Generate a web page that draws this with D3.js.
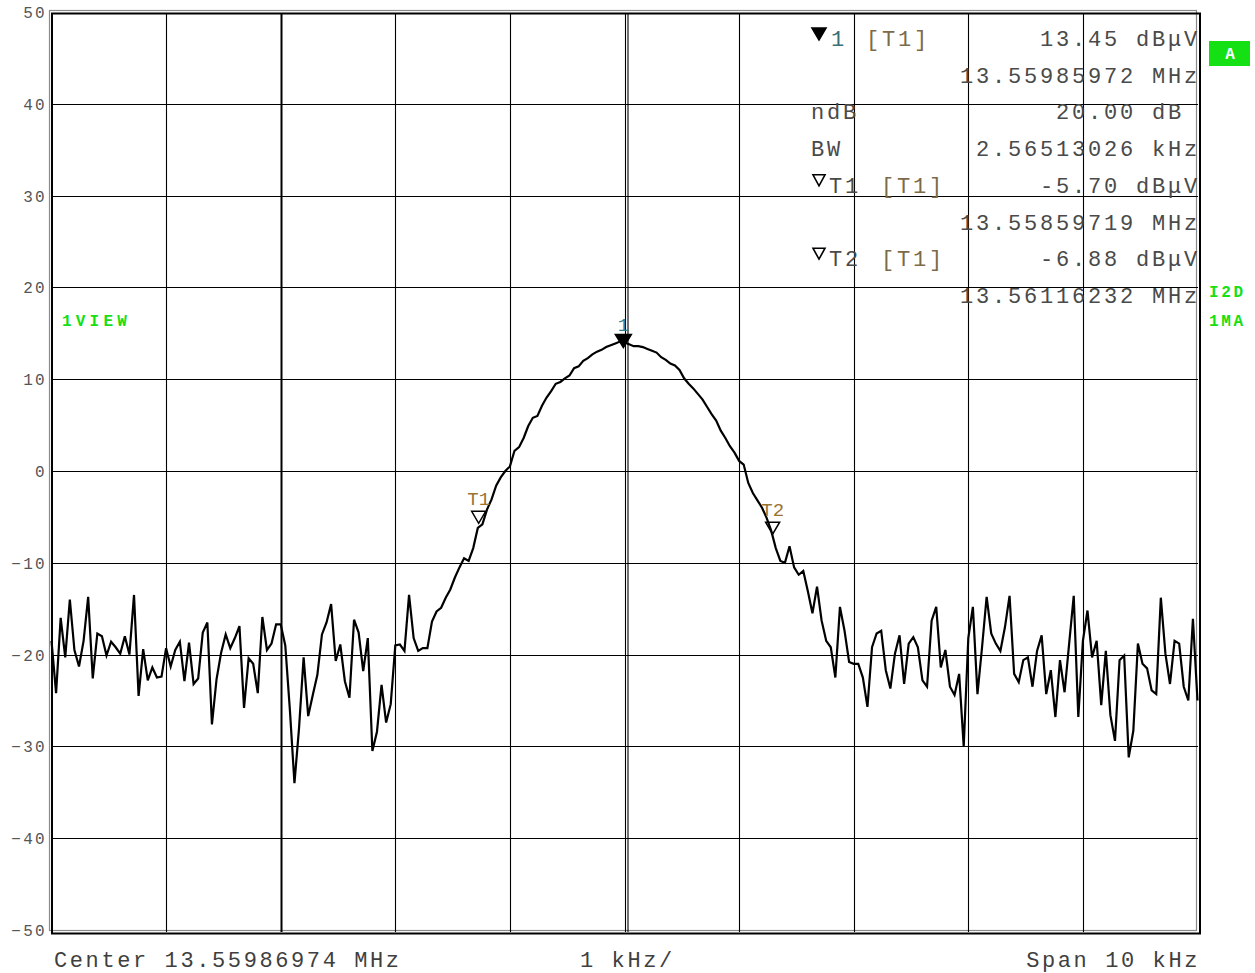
<!DOCTYPE html>
<html>
<head>
<meta charset="utf-8">
<script src="https://cdn.jsdelivr.net/npm/d3@7/dist/d3.min.js"></script>
<style>
  html, body { margin: 0; padding: 0; background: #fff; }
  svg { display: block; }
  text { font-family: "Liberation Mono", "DejaVu Sans Mono", monospace; white-space: pre; }
</style>
</head>
<body>
<svg width="1255" height="973"></svg>
<script>
// spectrum analyzer screen

var centerMHz = 13.55986974
var spanKHz = 10
var stepKHz = 0.04   // one trace point every 40 Hz

// trace level in dBuV, left to right
var levels = [
  -18.5, -24.2, -16.0, -20.3, -14.0, -19.5, -21.3, -18.5, -13.7, -22.6,
  -17.7, -18.0, -20.1, -18.6, -19.2, -19.9, -18.0, -20.0, -13.5, -24.5,
  -19.4, -22.8, -21.4, -22.5, -22.4, -19.3, -21.3, -19.5, -18.6, -22.9,
  -18.7, -23.2, -22.6, -17.6, -16.5, -27.6, -22.7, -19.8, -17.8, -19.3,
  -18.2, -16.9, -25.8, -20.4, -21.0, -24.2, -15.9, -19.5, -18.8, -16.7,
  -16.7, -19.0, -26.0, -34.0, -28.0, -20.3, -26.7, -24.4, -22.2, -17.8,
  -16.5, -14.5, -20.7, -18.9, -22.9, -24.7, -16.2, -17.6, -21.8, -18.2,
  -30.5, -28.4, -23.3, -27.4, -25.4, -19.0, -18.9, -19.6, -13.5, -18.2,
  -19.6, -19.3, -19.3, -16.4, -15.3, -14.9, -13.8, -12.9, -11.6, -10.5,
  -9.5, -9.8, -8.4, -6.2, -5.8, -4.2, -3.1, -1.6, -0.7, 0.0,
  0.5, 2.2, 2.6, 3.6, 4.9, 5.8, 6.0, 7.1, 8.0, 8.7,
  9.5, 9.7, 10.1, 10.4, 11.2, 11.4, 12.0, 12.3, 12.7, 13.0,
  13.2, 13.5, 13.7, 13.9, 14.1, 14.0, 13.8, 13.6, 13.6, 13.5,
  13.3, 13.1, 12.9, 12.4, 12.1, 11.7, 11.5, 11.0, 10.1, 9.5,
  9.0, 8.4, 7.8, 7.0, 6.2, 5.5, 4.4, 3.6, 2.7, 2.0,
  1.1, 0.7, -1.3, -2.4, -3.2, -4.0, -5.1, -6.5, -8.4, -9.8,
  -10.0, -8.2, -10.5, -11.3, -10.9, -13.1, -15.5, -12.6, -16.3, -18.5,
  -19.2, -22.5, -14.8, -17.4, -20.8, -21.0, -21.0, -22.5, -25.7, -19.2,
  -17.7, -17.4, -21.7, -23.7, -19.9, -17.9, -23.2, -18.8, -18.1, -19.2,
  -22.8, -23.5, -16.3, -14.8, -21.4, -19.5, -23.5, -24.4, -22.1, -30.0,
  -18.2, -14.8, -24.3, -19.2, -13.7, -17.7, -18.8, -19.6, -17.0, -13.6,
  -22.1, -23.0, -20.6, -20.3, -23.5, -19.6, -17.9, -24.3, -21.7, -26.8,
  -20.6, -24.1, -18.8, -13.6, -26.8, -18.5, -15.2, -20.3, -18.5, -25.5,
  -19.6, -26.6, -29.4, -20.6, -20.1, -31.2, -28.3, -18.8, -21.0, -21.5,
  -23.9, -24.3, -13.8, -19.9, -23.2, -18.5, -18.8, -23.5, -25.0, -16.1,
  -25.0
]

var yTicks = [50, 40, 30, 20, 10, 0, -10, -20, -30, -40, -50]
var xDivs = [-5, -4, -3, -2, -1, 0, 1, 2, 3, 4, 5]

// markers: name, offset from center (kHz), level (dBuV)
var markerNames = ["1", "T1", "T2"]
var markerOffsets = [-0.01002, -1.27255, 1.29258]
var markerLevels = [13.45, -5.70, -6.88]
var markerFilled = [true, false, false]

// readout block on the top right
var readLeft = ["1", "", "ndB", "BW", "T1", "", "T2", ""]
var readTag = ["[T1]", "", "", "", "[T1]", "", "[T1]", ""]
var readRight = ["13.45 dB\u03bcV", "13.55985972 MHz", "20.00 dB ", "2.56513026 kHz",
                 "-5.70 dB\u03bcV", "13.55859719 MHz", "-6.88 dB\u03bcV", "13.56116232 MHz"]

var svg = d3.select("svg")

var x = d3.scaleLinear().domain([-spanKHz / 2, spanKHz / 2]).range([51.5, 1197.5])
var y = d3.scaleLinear().domain([-50, 50]).range([930, 12])

// frame (grey + black, shifted)
svg.append("rect")
    .attr("x", 49.5).attr("y", 10.5).attr("width", 1147).attr("height", 920)
    .attr("fill", "none").attr("stroke", "#8a8a8a").attr("stroke-width", 1.2)
svg.append("rect")
    .attr("x", 52).attr("y", 13.5).attr("width", 1148).attr("height", 920)
    .attr("fill", "none").attr("stroke", "#000").attr("stroke-width", 2)

var grid = svg.append("g").attr("stroke", "#000").attr("stroke-width", 1.1)

grid.selectAll("line.h")
  .data(yTicks.slice(1, -1))
  .enter().append("line")
    .attr("class", "h")
    .attr("x1", 52).attr("x2", 1198)
    .attr("y1", function(d) { return Math.round(y(d)) + 0.5 })
    .attr("y2", function(d) { return Math.round(y(d)) + 0.5 })

grid.selectAll("line.v")
  .data(xDivs.slice(1, -1))
  .enter().append("line")
    .attr("class", "v")
    .attr("y1", 13).attr("y2", 932)
    .attr("x1", function(d) { return Math.round(x(d)) + 0.5 })
    .attr("x2", function(d) { return Math.round(x(d)) + 0.5 })
    .attr("stroke-width", function(d) { return d == -3 ? 2 : 1.1 })

// the center line shows doubled on the screen
grid.append("line")
    .attr("x1", Math.round(x(0)) + 3).attr("x2", Math.round(x(0)) + 3)
    .attr("y1", 13).attr("y2", 932)

// y tick labels
svg.append("g").selectAll("text")
  .data(yTicks)
  .enter().append("text")
    .attr("x", 47)
    .attr("y", function(d) { return y(d) + 6 })
    .attr("text-anchor", "end")
    .attr("font-size", 16)
    .attr("letter-spacing", 2.3)
    .attr("fill", "#555")
    .text(function(d) { return String(d).replace("-", "\u2212") })

// trace
var line = d3.line()
    .x(function(d, i) { return x(-spanKHz / 2 + i * stepKHz) })
    .y(function(d) { return y(d) })

svg.append("path")
    .datum(levels)
    .attr("d", line)
    .attr("fill", "none")
    .attr("stroke", "#000")
    .attr("stroke-width", 2.2)

// markers on the trace
var mk = svg.append("g").selectAll("g")
  .data(markerNames)
  .enter().append("g")
    .attr("transform", function(d, i) {
      return "translate(" + x(markerOffsets[i]) + "," + y(markerLevels[i]) + ")" })

mk.append("path")
    .attr("d", function(d, i) { return markerFilled[i] ? "M-8,-13L8,-13L0,0Z" : "M-7,-12L7,-12L0,0Z" })
    .attr("fill", function(d, i) { return markerFilled[i] ? "#000" : "#fff" })
    .attr("fill-opacity", function(d, i) { return markerFilled[i] ? 1 : 0 })
    .attr("stroke", "#000")
    .attr("stroke-width", 1.5)

mk.append("text")
    .attr("x", 0)
    .attr("y", function(d, i) { return i == 0 ? -17 : -18 })
    .attr("text-anchor", "middle")
    .attr("font-size", 19)
    .attr("fill", function(d, i) { return i == 0 ? "#2f7d90" : "#9b7432" })
    .text(function(d) { return d })

// readout block
var rowY = function(i) { return 46 + i * 36.7 }
var big = { size: 22, spacing: 2.8 }
var rb = svg.append("g").attr("font-size", big.size).attr("letter-spacing", big.spacing)

readLeft.forEach(function(t, i) {
  if (!t) return
  var isMarker = readTag[i] != ""
  if (isMarker) {
    var filled = i == 0
    rb.append("path")
        .attr("transform", "translate(819," + (rowY(i) - (filled ? 8 : 9)) + ")")
        .attr("d", filled ? "M-7,-10L7,-10L0,2Z" : "M-6,-9L6,-9L0,2Z")
        .attr("fill", filled ? "#000" : "none")
        .attr("stroke", "#000").attr("stroke-width", 1.6)
    rb.append("text")
        .attr("x", filled ? 831 : 829).attr("y", rowY(i))
        .attr("fill", filled ? "#3a6f7c" : "#4a4a4a")
        .text(t)
    rb.append("text")
        .attr("x", filled ? 866 : 881).attr("y", rowY(i))
        .attr("fill", "#7d6a48")
        .text(readTag[i])
  } else {
    rb.append("text")
        .attr("x", 811).attr("y", rowY(i))
        .attr("fill", "#4a4a4a")
        .text(t)
  }
})

rb.selectAll("text.val")
  .data(readRight)
  .enter().append("text")
    .attr("class", "val")
    .attr("x", 1200)
    .attr("y", function(d, i) { return rowY(i) })
    .attr("text-anchor", "end")
    .attr("fill", "#4a4a4a")
    .text(function(d) { return d })

// bottom line
var bottom = svg.append("g").attr("font-size", big.size).attr("letter-spacing", 2.6).attr("fill", "#3f3f3f")
bottom.append("text").attr("x", 54).attr("y", 967).text("Center " + centerMHz.toFixed(8) + " MHz")
bottom.append("text").attr("x", 580).attr("y", 967).text(spanKHz / 10 + " kHz/")
bottom.append("text").attr("x", 1200).attr("y", 967).attr("text-anchor", "end").text("Span " + spanKHz + " kHz")

// green annotations
var green = "#14e014"
svg.append("rect").attr("x", 1209).attr("y", 41).attr("width", 41).attr("height", 25).attr("fill", green)
svg.append("text").attr("x", 1230).attr("y", 59).attr("text-anchor", "middle")
    .attr("font-size", 16).attr("font-weight", "bold").attr("fill", "#fff").text("A")

var side = svg.append("g").attr("font-size", 16).attr("font-weight", "bold")
    .attr("letter-spacing", 2.6).attr("fill", green)
side.append("text").attr("x", 1209).attr("y", 297).text("I2D")
side.append("text").attr("x", 1209).attr("y", 326).text("1MA")
side.append("text").attr("x", 62).attr("y", 326).attr("letter-spacing", 4.2).text("1VIEW")
</script>
</body>
</html>
